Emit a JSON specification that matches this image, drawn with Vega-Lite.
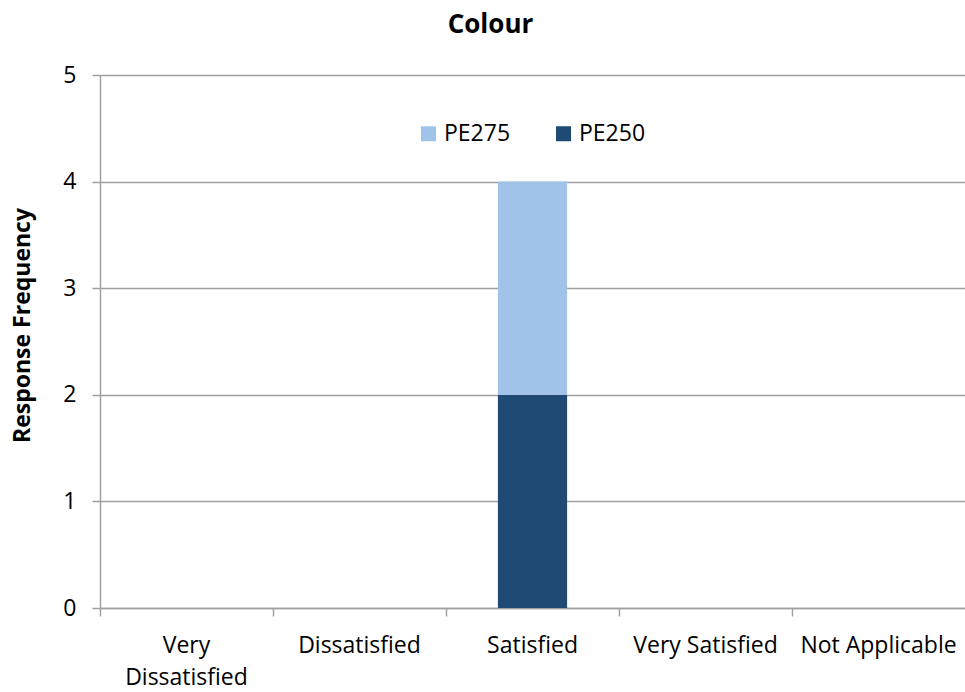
{
  "$schema": "https://vega.github.io/schema/vega-lite/v6.json",
  "width": 865,
  "height": 533,
  "autosize": {"type": "none"},
  "padding": {"left": 100, "top": 75, "right": 0, "bottom": 84},
  "background": "white",
  "title": {
    "text": "Colour",
    "font": "Open Sans",
    "fontSize": 26,
    "fontWeight": "bold",
    "color": "#000000",
    "anchor": "middle",
    "dx": -42,
    "offset": 26
  },
  "data": {
    "values": [
      {"response": "Very Dissatisfied", "model": "PE250", "count": 0, "stackOrder": 1},
      {"response": "Very Dissatisfied", "model": "PE275", "count": 0, "stackOrder": 2},
      {"response": "Dissatisfied", "model": "PE250", "count": 0, "stackOrder": 1},
      {"response": "Dissatisfied", "model": "PE275", "count": 0, "stackOrder": 2},
      {"response": "Satisfied", "model": "PE250", "count": 2, "stackOrder": 1},
      {"response": "Satisfied", "model": "PE275", "count": 2, "stackOrder": 2},
      {"response": "Very Satisfied", "model": "PE250", "count": 0, "stackOrder": 1},
      {"response": "Very Satisfied", "model": "PE275", "count": 0, "stackOrder": 2},
      {"response": "Not Applicable", "model": "PE250", "count": 0, "stackOrder": 1},
      {"response": "Not Applicable", "model": "PE275", "count": 0, "stackOrder": 2}
    ]
  },
  "mark": {"type": "bar", "width": {"band": 0.4}},
  "encoding": {
    "x": {
      "field": "response",
      "type": "nominal",
      "sort": ["Very Dissatisfied", "Dissatisfied", "Satisfied", "Very Satisfied", "Not Applicable"],
      "scale": {"paddingInner": 0, "paddingOuter": 0},
      "axis": {
        "title": null,
        "labelAngle": 0,
        "labelFont": "Open Sans",
        "labelFontSize": 23,
        "labelColor": "#000000",
        "labelPadding": 29,
        "labelLineHeight": 32,
        "labelBaseline": "middle",
        "labelExpr": "datum.value == 'Very Dissatisfied' ? ['Very', 'Dissatisfied'] : datum.value",
        "bandPosition": 0,
        "ticks": true,
        "tickSize": 8,
        "tickColor": "#a0a0a0",
        "tickWidth": 1.5,
        "domainColor": "#a0a0a0",
        "domainWidth": 1.5,
        "grid": false
      }
    },
    "y": {
      "field": "count",
      "type": "quantitative",
      "stack": "zero",
      "scale": {"domain": [0, 5], "nice": false},
      "axis": {
        "title": "Response Frequency",
        "titleFont": "Open Sans",
        "titleFontSize": 23,
        "titleFontWeight": "bold",
        "titleColor": "#000000",
        "titleAngle": -90,
        "titleX": -78,
        "titleY": 250,
        "titleAlign": "center",
        "titleBaseline": "middle",
        "values": [0, 1, 2, 3, 4, 5],
        "labelFont": "Open Sans",
        "labelFontSize": 23,
        "labelColor": "#000000",
        "labelPadding": 16,
        "tickSize": 8,
        "tickColor": "#a0a0a0",
        "tickWidth": 1.5,
        "domainColor": "#a0a0a0",
        "domainWidth": 1.5,
        "grid": true,
        "gridColor": "#a0a0a0",
        "gridWidth": 1.5
      }
    },
    "color": {
      "field": "model",
      "type": "nominal",
      "scale": {"domain": ["PE275", "PE250"], "range": ["#a0c3ea", "#1f4a73"]},
      "legend": {
        "title": null,
        "orient": "none",
        "direction": "horizontal",
        "legendX": 317,
        "legendY": 47,
        "padding": 0,
        "symbolType": "square",
        "symbolSize": 225,
        "symbolStrokeWidth": 0,
        "labelFont": "Open Sans",
        "labelFontSize": 23,
        "labelColor": "#000000",
        "labelOffset": 4,
        "columnPadding": 41
      }
    },
    "order": {"field": "stackOrder", "type": "quantitative"}
  },
  "config": {
    "view": {"stroke": null}
  }
}
